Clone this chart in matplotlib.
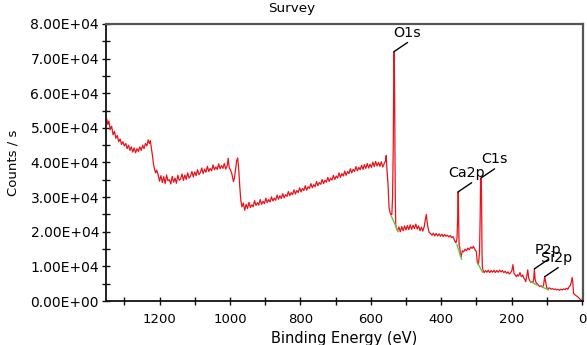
import numpy as np
import matplotlib

matplotlib.use("Agg")
import matplotlib.pyplot as plt
from matplotlib.ticker import MultipleLocator, FuncFormatter

# ─────────────────────────────────────────────
# DATA (eV descending)
# ─────────────────────────────────────────────
# high-BE background 1350 -> 1208 eV
ev_high = [1350, 1347, 1344, 1340, 1336, 1332, 1328, 1324, 1320, 1316, 1312, 1308, 1304,
           1300, 1296, 1292, 1288, 1284, 1280, 1276, 1272, 1268, 1264, 1260, 1256, 1252,
           1248, 1244, 1240, 1236, 1232, 1229, 1226, 1223, 1220, 1217, 1214, 1211, 1208]
cts_high = [52500, 51000, 52000, 49500, 50500, 48000, 49000, 47000, 47800, 46000, 46800, 45200, 46000,
            44800, 45500, 44000, 45000, 43500, 44500, 43000, 44200, 42800, 44000, 43200, 44500, 43500,
            45000, 44000, 45500, 44800, 46500, 45500, 46300, 44000, 42000, 39500, 38000, 37000, 37800]

# plateau 1204 -> 1008 eV
ev_plateau = [1204, 1200, 1196, 1192, 1188, 1184, 1180, 1176, 1172, 1168,
              1164, 1160, 1156, 1152, 1148, 1144, 1140, 1136, 1132, 1128,
              1124, 1120, 1116, 1112, 1108, 1104, 1100, 1096, 1092, 1088,
              1084, 1080, 1076, 1072, 1068, 1064, 1060, 1056, 1052, 1048,
              1044, 1040, 1036, 1032, 1028, 1024, 1020, 1016, 1012, 1008]
cts_plateau = [36500, 34600, 36200, 34200, 35900, 33900, 36400, 34700, 35000, 33800,
               36000, 34300, 35500, 34000, 36300, 34900, 35200, 36700, 34800, 36400,
               35100, 37000, 35500, 36100, 37400, 35800, 37300, 36200, 37900, 36500,
               37100, 38400, 36800, 38100, 37200, 38900, 37400, 38300, 37600, 39300,
               37900, 38700, 38000, 39600, 38200, 39100, 38300, 39700, 38100, 39000]

# double spike and step near 1000 eV
ev_step = [1005, 1002, 998, 994, 990, 987, 984, 981, 978, 975, 972, 969]
cts_step = [41200, 38500, 37800, 36500, 34500, 35500, 38000, 40500, 41300, 38000, 33000, 29000]

# rising background 966 -> 562 eV
ev_ramp = [966, 962, 958, 954, 950, 946, 942, 938, 934, 930,
           926, 922, 918, 914, 910, 906, 902, 898, 894, 890,
           886, 882, 878, 874, 870, 866, 862, 858, 854, 850,
           846, 842, 838, 834, 830, 826, 822, 818, 814, 810,
           806, 802, 798, 794, 790, 786, 782, 778, 774, 770,
           766, 762, 758, 754, 750, 746, 742, 738, 734, 730,
           726, 722, 718, 714, 710, 706, 702, 698, 694, 690,
           686, 682, 678, 674, 670, 666, 662, 658, 654, 650,
           646, 642, 638, 634, 630, 626, 622, 618, 614, 610,
           606, 602, 598, 594, 590, 586, 582, 578, 574, 570,
           566, 562]
cts_ramp = [27200, 28300, 26200, 27900, 26700, 28500, 27000, 27800, 27200, 29000,
            27600, 28400, 27700, 29300, 27900, 28800, 28100, 29700, 28400, 29300,
            28600, 30100, 28900, 29700, 29100, 30600, 29400, 30400, 29600, 31000,
            29800, 30700, 30200, 31600, 30400, 31300, 30700, 32100, 30900, 31900,
            31300, 32700, 31500, 32500, 31900, 33300, 32000, 33000, 32500, 33900,
            32700, 33600, 33000, 34500, 33300, 34200, 33700, 35100, 33900, 34900,
            34300, 35700, 34500, 35500, 34900, 36300, 35100, 36100, 35500, 37000,
            35700, 36800, 36100, 37500, 36300, 37400, 36800, 38200, 37000, 38000,
            37400, 38800, 37600, 38600, 37900, 39200, 38000, 39400, 38300, 39700,
            38400, 39500, 38600, 40100, 38800, 40300, 39000, 40000, 38900, 40200,
            38700, 39600]

# O1s region 558 -> 527 eV
ev_o1s = [558, 556, 554, 551, 548, 545, 542, 540, 538, 536, 535, 534, 533, 532, 531, 530, 529, 527]
cts_o1s = [40500, 42000, 38000, 34000, 27000, 25500, 24800, 25000, 30000, 45000, 60000, 72000,
           71000, 60000, 40000, 28000, 22000, 21000]

# low-BE part 524 -> 0 eV (Ca2s, Ca2p, C1s, P2p, Si2p ...)
ev_low = [524, 520, 516, 512, 508, 504, 500, 496, 492, 488, 484, 480, 476, 472,
          468, 464, 460, 456, 452, 448, 445, 442, 440, 437, 434, 430, 426, 422, 418, 414, 410,
          406, 402, 398, 394, 390, 386, 382, 378, 374, 370, 366, 362, 358, 355, 353, 352, 351,
          350, 349, 347, 345, 343, 340, 336, 332, 328, 324, 320, 316, 312, 308, 304, 300, 297,
          294, 291, 289, 288, 286, 285, 284, 283, 281, 278, 274, 270, 266, 262, 258, 254, 250,
          246, 242, 238, 234, 230, 226, 222, 218, 214, 210, 206, 202, 199, 196, 193, 190, 186,
          183, 180, 176, 172, 168, 165, 162, 160, 157, 154, 151, 148, 145, 142, 139, 137, 135,
          133, 130, 127, 124, 120, 116, 112, 109, 106, 103, 100, 96, 92, 88, 84, 80, 76, 72,
          68, 64, 60, 56, 52, 48, 44, 40, 36, 33, 30, 28, 26, 24, 20, 16, 12, 8, 4, 0]
cts_low = [20300, 21400, 20000, 21500, 20300, 21700, 20500, 21800, 20600, 22000, 20700, 21900, 20900, 22200,
           20800, 21700, 20300, 21300, 20200, 21500, 23500, 25000, 23000, 21000, 19800, 19500, 19000, 19600, 18800, 19500, 18800,
           19400, 18700, 19300, 18600, 19200, 18700, 19000, 18500, 18900, 18300, 18600, 17500, 16800, 18000, 24000, 31500, 31000,
           22000, 16000, 15500, 13000, 12800, 14500, 14200, 15000, 14500, 15300, 14800, 15600, 15200, 15800, 14800, 14300, 11000,
           10500, 14000, 25000, 35000, 35500, 28000, 15000, 10000, 8800, 8200, 8800, 8300, 8900, 8200, 8800, 8300, 8900,
           8200, 8800, 8300, 8900, 8400, 8800, 8200, 8600, 8000, 8400, 7800, 8300, 8800, 10500, 8000, 7600, 7000,
           7600, 7200, 8200, 7000, 7500, 6600, 6200, 5600, 7000, 9000, 6500, 5800, 5400, 5600, 5300, 6500, 9300,
           6200, 5200, 5000, 4600, 4200, 4400, 4000, 4600, 7000, 5500, 3800, 3600, 3800, 3400, 3600, 3300, 3500, 3200,
           3400, 3100, 3400, 3200, 3500, 3300, 3700, 3400, 4200, 4500, 5500, 6800, 5500, 2200, 1800, 1500, 1200, 800, 400, 0]

# green background lines under the fitted peaks: (start eV, start counts, end eV, end counts)
bg_regions = [
    (541, 24400, 522, 20000),
    (355, 16200, 342, 12100),
    (297, 11000, 282, 8300),
    (145, 5600, 128, 4600),
    (114, 4100, 95, 3200),
]

# peak labels
peak_names = ["O1s", "Ca2p", "C1s", "P2p", "Si2p"]
peak_ev = [534, 352, 287, 135, 106]
peak_counts = [72000, 31500, 35500, 9300, 7000]

be_ev = ev_high + ev_plateau + ev_step + ev_ramp + ev_o1s + ev_low
counts = cts_high + cts_plateau + cts_step + cts_ramp + cts_o1s + cts_low

# ─────────────────────────────────────────────
# PLOT
# ─────────────────────────────────────────────
plt.rcParams["font.family"] = ["DejaVu Sans"]

fig = plt.figure(figsize=(5.87, 3.45), dpi=100)
ax = fig.add_axes([0.1806, 0.1275, 0.8126, 0.803])

ax.plot(be_ev, counts, color="#e8141c", lw=0.9)
for x0, y0, x1, y1 in bg_regions:
    ax.plot([x0, x1], [y0, y1], color="#6cc24a", lw=1.0)

for name, x, y in zip(peak_names, peak_ev, peak_counts):
    ax.annotate(
        name, xy=(x, y), xytext=(27, 19), textcoords="offset pixels",
        ha="right", va="center", fontsize=10.3,
        arrowprops=dict(arrowstyle="-", color="black", lw=1.0,
                        shrinkA=0, shrinkB=0, relpos=(1.0, 0.45)),
    )

ax.set_xlim(1352, -3)
ax.set_ylim(0, 80000)
ax.xaxis.set_major_locator(MultipleLocator(200))
ax.xaxis.set_minor_locator(MultipleLocator(100))
ax.yaxis.set_major_locator(MultipleLocator(10000))
ax.yaxis.set_minor_locator(MultipleLocator(5000))
ax.yaxis.set_major_formatter(FuncFormatter(lambda v, p: f"{v:.2E}"))

ax.tick_params(which="both", direction="inout", length=6, width=1.0, color="#111111")
ax.tick_params(axis="y", labelsize=10, pad=2)
ax.tick_params(axis="x", labelsize=9.5, pad=5.5)

for side in ["left", "bottom"]:
    ax.spines[side].set_color("#111111")
    ax.spines[side].set_linewidth(1.3)
for side in ["top", "right"]:
    ax.spines[side].set_color("#555555")
    ax.spines[side].set_linewidth(1.6)

ax.set_xlabel("Binding Energy (eV)", fontsize=10.5, labelpad=4)
ax.set_ylabel("Counts / s", fontsize=9.5, labelpad=8)
fig.text(0.497, 0.974, "Survey", ha="center", va="center", fontsize=9.7)

fig.savefig("out.png", dpi=100)
